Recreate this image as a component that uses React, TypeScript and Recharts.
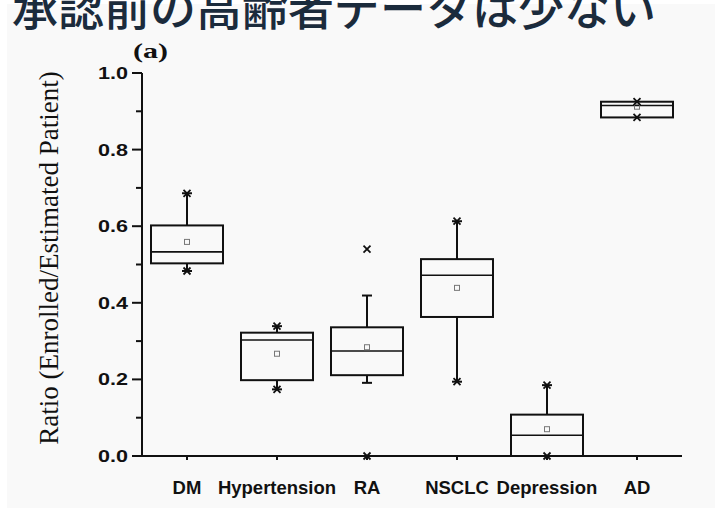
import React from "react";
import { ComposedChart, Bar, Scatter, XAxis, YAxis, Label } from "recharts";

const categories = ["DM", "Hypertension", "RA", "NSCLC", "Depression", "AD"];
const q1 = [0.503, 0.198, 0.211, 0.363, 0.0, 0.884];
const median = [0.533, 0.303, 0.274, 0.472, 0.054, 0.915];
const q3 = [0.602, 0.322, 0.336, 0.514, 0.108, 0.925];
const whiskerLow = [0.483, 0.174, 0.191, 0.194, 0.0, 0.884];
const whiskerHigh = [0.686, 0.339, 0.419, 0.613, 0.185, 0.925];
const means = [0.559, 0.267, 0.284, 0.439, 0.07, 0.912];
const minMarks = [0.483, 0.174, 0.0, 0.194, 0.0, 0.884];
const maxMarks = [0.686, 0.339, 0.54, 0.613, 0.185, 0.925];
const yTicks = [0, 0.1, 0.2, 0.3, 0.4, 0.5, 0.6, 0.7, 0.8, 0.9, 1.0];

const data = categories.map((name, i) => ({
  name,
  q1: q1[i],
  median: median[i],
  q3: q3[i],
  wLow: whiskerLow[i],
  wHigh: whiskerHigh[i],
  mean: means[i],
  minMark: minMarks[i],
  maxMark: maxMarks[i],
  span: [
    Math.min(whiskerLow[i], minMarks[i]),
    Math.max(whiskerHigh[i], maxMarks[i]),
  ],
}));

const SANS = "'Liberation Sans', Arial, sans-serif";
const SERIF = "'Liberation Serif', 'Times New Roman', serif";

const BoxShape = (props: any) => {
  const { x, y, width, height, payload } = props;
  const [lo, hi] = payload.span;
  const top = Math.min(y, y + height);
  const h = Math.abs(height);
  const toY = (v: number) => top + ((hi - v) / (hi - lo)) * h;
  const cx = x + width / 2;
  const yQ1 = toY(payload.q1);
  const yQ3 = toY(payload.q3);
  const yMed = toY(payload.median);
  const yHi = toY(payload.wHigh);
  const yLo = toY(payload.wLow);
  const cap = 5;
  return (
    <g stroke="#111" fill="none">
      {payload.wHigh > payload.q3 && (
        <>
          <line x1={cx} x2={cx} y1={yHi} y2={yQ3} strokeWidth={2} />
          <line x1={cx - cap} x2={cx + cap} y1={yHi} y2={yHi} strokeWidth={2} />
        </>
      )}
      {payload.wLow < payload.q1 && (
        <>
          <line x1={cx} x2={cx} y1={yQ1} y2={yLo} strokeWidth={2} />
          <line x1={cx - cap} x2={cx + cap} y1={yLo} y2={yLo} strokeWidth={2} />
        </>
      )}
      <rect x={x} y={yQ3} width={width} height={yQ1 - yQ3} strokeWidth={2} />
      <line x1={x} x2={x + width} y1={yMed} y2={yMed} strokeWidth={1.6} />
    </g>
  );
};

const MeanShape = (props: any) => {
  const { cx, cy } = props;
  return (
    <rect x={cx - 2.5} y={cy - 2.5} width={5} height={5} fill="none" stroke="#777" strokeWidth={1} />
  );
};

const CrossShape = (props: any) => {
  const { cx, cy } = props;
  const s = 3.5;
  return (
    <g stroke="#111" strokeWidth={1.8}>
      <line x1={cx - s} y1={cy - s} x2={cx + s} y2={cy + s} />
      <line x1={cx - s} y1={cy + s} x2={cx + s} y2={cy - s} />
    </g>
  );
};

const YTick = (props: any) => {
  const { x, y, payload, index } = props;
  const axisX = x + 14;
  const major = index % 2 === 0;
  return (
    <g>
      <line x1={axisX - (major ? 10 : 6)} x2={axisX} y1={y} y2={y} stroke="#111" strokeWidth={2} />
      {major && (
        <text
          x={x - 30}
          y={y}
          dy={6}
          fill="#111"
          fontFamily={SANS}
          fontWeight={700}
          fontSize={17}
          textLength={30}
          lengthAdjust="spacingAndGlyphs"
        >
          {payload.value.toFixed(1)}
        </text>
      )}
    </g>
  );
};

export default function App() {
  return (
    <div style={{ position: "absolute", left: 0, top: 0, width: 715, height: 508, background: "#fff", overflow: "hidden" }}>
      <div style={{ position: "absolute", left: 7, top: 4, width: 708, height: 504, background: "#f9f9f9" }} />
      <div style={{ position: "absolute", left: 0, top: 0 }}>
        <ComposedChart
          width={715}
          height={508}
          data={data}
          margin={{ top: 73, right: 33, bottom: 0, left: 32 }}
        >
          <XAxis
            dataKey="name"
            height={52}
            axisLine={{ stroke: "#111", strokeWidth: 2 }}
            tickLine={{ stroke: "#111", strokeWidth: 2 }}
            tickSize={4}
            tickMargin={21}
            tick={{ fill: "#111", fontFamily: SANS, fontWeight: 700, fontSize: 18.5 }}
            interval={0}
          />
          <YAxis
            type="number"
            domain={[0, 1]}
            ticks={yTicks}
            width={110}
            axisLine={{ stroke: "#111", strokeWidth: 2 }}
            tickLine={false}
            tickSize={10}
            tickMargin={4}
            tick={<YTick />}
            interval={0}
          >
            <Label
              content={() => (
                <text
                  transform="translate(58, 258) rotate(-90)"
                  textAnchor="middle"
                  fill="#111"
                  fontFamily={SERIF}
                  fontSize={27}
                >
                  Ratio (Enrolled/Estimated Patient)
                </text>
              )}
            />
          </YAxis>
          <Bar dataKey="span" barSize={72} shape={<BoxShape />} isAnimationActive={false} />
          <Scatter dataKey="mean" shape={<MeanShape />} isAnimationActive={false} />
          <Scatter dataKey="maxMark" shape={<CrossShape />} isAnimationActive={false} />
          <Scatter dataKey="minMark" shape={<CrossShape />} isAnimationActive={false} />
        </ComposedChart>
      </div>
      <svg width={715} height={508} style={{ position: "absolute", left: 0, top: 0, pointerEvents: "none" }}>
        <text x={12} y={25} fill="#1b2b3c" fontFamily="'Noto Sans CJK JP', sans-serif" fontWeight={500} fontSize={46}>
          承認前の高齢者データは少ない
        </text>
        <text x={133} y={58} fill="#111" fontFamily={SERIF} fontWeight={700} fontSize={22} textLength={35} lengthAdjust="spacingAndGlyphs">
          (a)
        </text>
      </svg>
    </div>
  );
}
